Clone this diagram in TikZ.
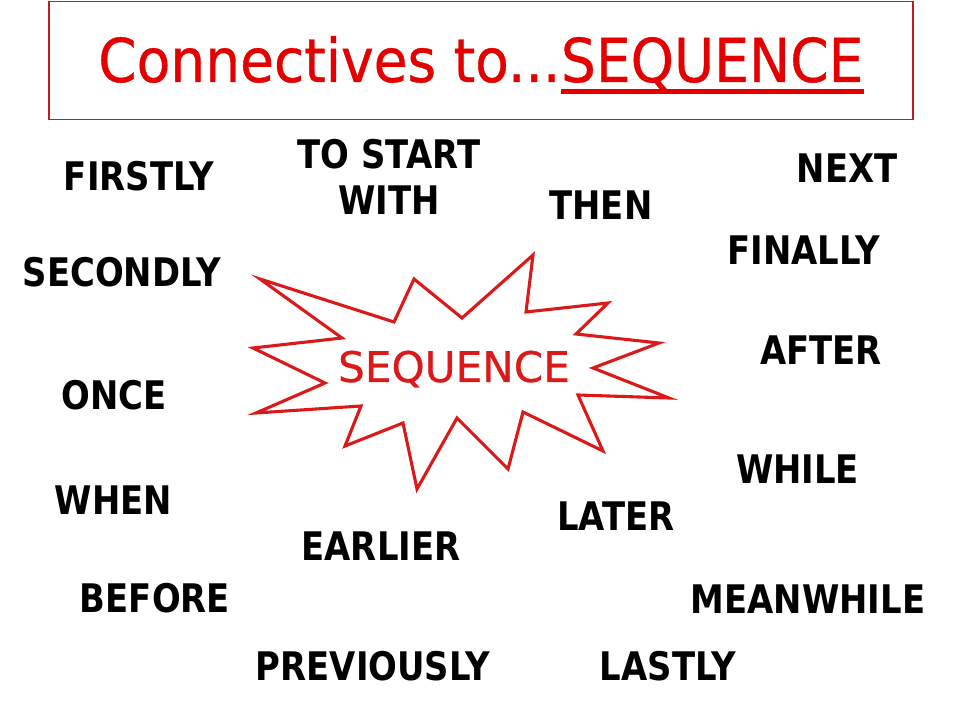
\documentclass[tikz,border=0pt]{standalone}
\usepackage{fontspec}
\usepackage{tikz}
\usetikzlibrary{positioning,calc}
\newfontfamily\wordfont[FakeStretch=0.86]{DejaVu Sans}
\newfontfamily\titlefont[FakeStretch=0.91,FakeBold=0.6]{DejaVu Sans}
\newfontfamily\starfont[FakeBold=0.5]{DejaVu Sans}
\definecolor{titlered}{RGB}{228,0,0}
\definecolor{framered}{RGB}{190,30,30}
\definecolor{starred}{RGB}{220,25,25}

\begin{document}
\begin{tikzpicture}[
    x=0.025cm, y=-0.025cm,
    word/.style={inner sep=0pt, font=\wordfont\bfseries\fontsize{28}{30}\selectfont, text=black},
    title/.style={inner sep=0pt, anchor=base west, text=titlered, font=\titlefont\fontsize{43}{46}\selectfont},
    burst/.style={draw=starred, line width=2.2pt, line join=miter}
]
\useasboundingbox (0,0) rectangle (960,720);
\fill[white] (0,0) rectangle (960,720);

% title box
\draw[framered, line width=1.1pt] (49,1.5) rectangle (913,119.5);
\node[title] (ttl) at (98,82) {Connectives to...};
\node[title] (ttlseq) at (ttl.base east) {SEQUENCE};
\draw[titlered, line width=3.6pt] ([yshift=-6.5pt]ttlseq.base west) -- ([yshift=-6.5pt]ttlseq.base east);

% starburst
\draw[burst] (260,279) -- (394,322) -- (414,279) -- (462,318) -- (533,255)
  -- (526,312) -- (608,303) -- (576,334) -- (659,343) -- (593,368)
  -- (669,398) -- (578,395) -- (603,451) -- (523,412) -- (508,469)
  -- (457,418) -- (417,489) -- (403,423) -- (345,446) -- (361,406)
  -- (256,413) -- (325,383) -- (253,348) -- (342,338) -- cycle;
\node[inner sep=0pt, anchor=base, text=starred, font=\starfont\fontsize{30}{32}\selectfont] (seq) at (454,382) {SEQUENCE};

% connectives
\node[word] (firstly) at (139,176) {FIRSTLY};
\node[word, align=center, font=\wordfont\bfseries\fontsize{28}{32.7}\selectfont] (tostart) at (389,176.5) {TO START\\WITH};
\node[word] (next) at (847,168.5) {NEXT};
\node[word] (then) at (601,205.5) {THEN};
\node[word] (secondly) at (122,272.5) {SECONDLY};
\node[word] (finally) at (804,250.5) {FINALLY};
\node[word] (after) at (821,350) {AFTER};
\node[word] (once) at (114,395) {ONCE};
\node[word] (while) at (797.5,469.5) {WHILE};
\node[word] (when) at (113.5,500) {WHEN};
\node[word] (later) at (616,516) {LATER};
\node[word] (earlier) at (381,546) {EARLIER};
\node[word] (before) at (155,598) {BEFORE};
\node[word] (meanwhile) at (808,599) {MEANWHILE};
\node[word] (previously) at (373,666) {PREVIOUSLY};
\node[word] (lastly) at (668,666) {LASTLY};
\end{tikzpicture}
\end{document}
